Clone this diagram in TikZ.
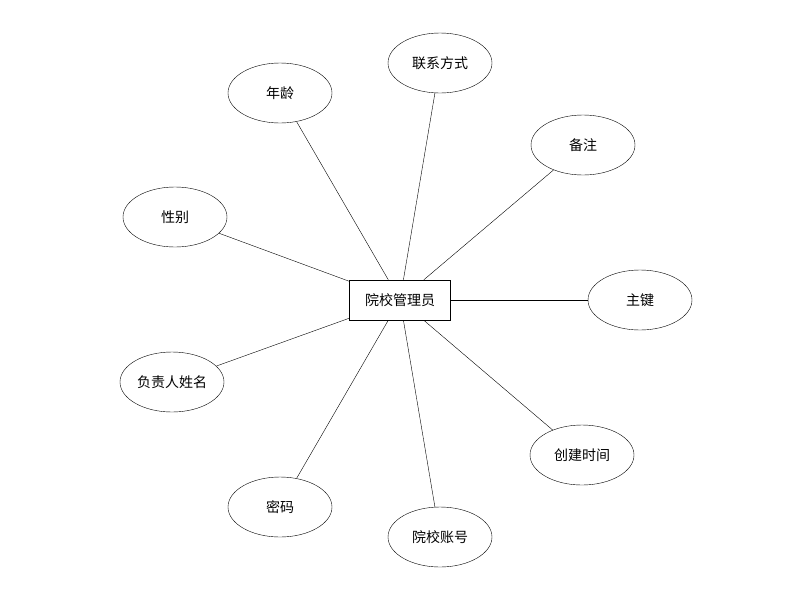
\documentclass[tikz,border=0pt]{standalone}
\usepackage{fontspec}
\setmainfont{Noto Sans CJK SC}
\usetikzlibrary{shapes.geometric}
\tikzset{
    attr/.style={draw, ellipse, minimum width=104pt, minimum height=60pt, inner sep=0pt},
    entity/.style={draw, rectangle, minimum width=101pt, minimum height=40pt}
}
\begin{document}
\begin{tikzpicture}[x=1pt,y=-1pt,font=\fontsize{14}{16}\selectfont]
    \useasboundingbox (0,0) rectangle (800,600);
    % Entity
    \node[entity] (admin) at (400,300) {院校管理员};
    % Attributes
    \node[attr] (phone) at (440,63) {联系方式};
    \node[attr] (age) at (280,93) {年龄};
    \node[attr] (note) at (583,145) {备注};
    \node[attr] (sex) at (175,217) {性别};
    \node[attr] (key) at (640,300) {主键};
    \node[attr] (head) at (172,382) {负责人姓名};
    \node[attr] (ctime) at (582,455) {创建时间};
    \node[attr] (pwd) at (280,507) {密码};
    \node[attr] (acct) at (440,537) {院校账号};
    % Connectors
    \foreach \a in {phone,age,note,sex,key,head,ctime,pwd,acct}
        \draw (admin) -- (\a);
\end{tikzpicture}
\end{document}
